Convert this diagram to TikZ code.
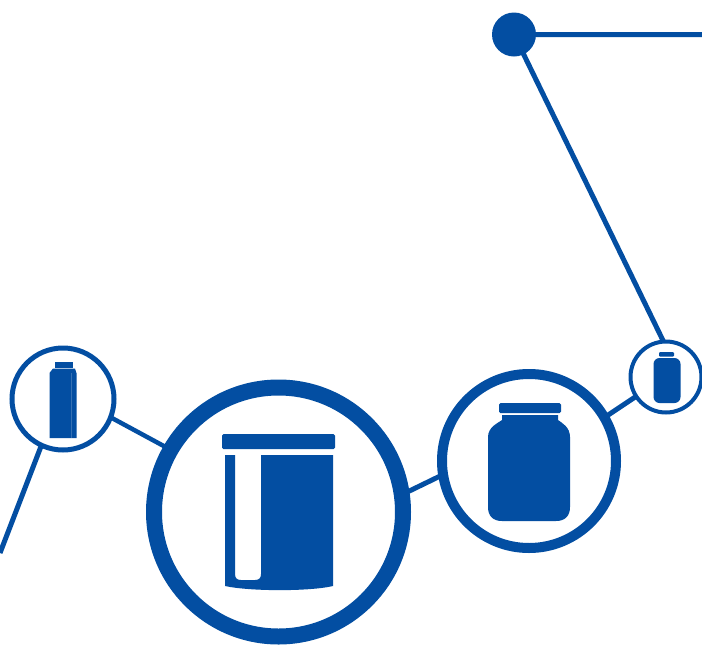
\documentclass[tikz,border=0pt]{standalone}
\usepackage{xcolor}
\usepackage{tikz}
\definecolor{jarblue}{HTML}{034EA2}

\begin{document}
\begin{tikzpicture}[x=1pt,y=-1pt,
    ring/.style={circle,draw=jarblue,fill=white,inner sep=0pt,outer sep=0pt},
    link/.style={draw=jarblue,line width=5pt},
    solid part/.style={fill=jarblue,draw=none}]

  \useasboundingbox (0,0) rectangle (702,646);

  % Cerchi
  \node[circle,fill=jarblue,inner sep=0pt,minimum size=44pt] (top) at (514,34.5) {};
  \coordinate (topend) at (702,34.5);
  \coordinate (leftend) at (0,553);
  \node[ring,line width=5pt,minimum size=102pt] (small) at (63,399) {};
  \node[ring,line width=16pt,minimum size=249pt] (big) at (278.5,512) {};
  \node[ring,line width=10pt,minimum size=174pt] (jar) at (529,461) {};
  \node[ring,line width=4pt,minimum size=71pt] (tiny) at (666,377) {};

  % Collegamenti
  \path[link]
    (top) -- (topend)
    (top.center) -- (tiny.94)
    (small.245) -- (leftend)
    (big.8) -- (jar.189)
    (jar.30) -- (tiny.213);
  \path[link,line width=4.5pt] (small.-21) -- (big.150);

  % Bottiglia a sinistra
  \fill[solid part] (55,362) rectangle (73,367.5);
  \fill[solid part] (53,368.5) -- (75,368.5) -- (76.5,373) -- (76.5,438) -- (49.5,438) -- (49.5,373) -- cycle;
  \draw[white,opacity=.2,line width=.7pt] (71,373) -- (71,438);

  % Barattolo grande
  \fill[solid part,rounded corners=1.5pt] (222,434) rectangle (335,449);
  \fill[solid part] (225,455) -- (235,455) -- (235,574)
    .. controls (235,578) and (237,580) .. (241,580)
    -- (255,580) .. controls (259,580) and (261,578) .. (261,574)
    -- (261,455) -- (333,455) -- (333,586)
    .. controls (310,591.5) and (250,591.5) .. (225,586) -- cycle;

  % Barattolo medio
  \fill[solid part,rounded corners=1.5pt] (499,403) rectangle (561,413);
  \fill[solid part] (502,415) -- (558,415) -- (558,420)
    .. controls (562,423) and (570,427) .. (570,437)
    -- (570,507) .. controls (570,516) and (565,521) .. (556,521)
    -- (502,521) .. controls (493,521) and (488,516) .. (488,507)
    -- (488,437) .. controls (488,427) and (498,423) .. (502,420) -- cycle;

  % Bottiglia piccola
  \fill[solid part,rounded corners=1pt] (659,352) rectangle (674,356.5);
  \fill[solid part,rounded corners=6pt] (653.5,358) rectangle (680.5,403);

\end{tikzpicture}
\end{document}
